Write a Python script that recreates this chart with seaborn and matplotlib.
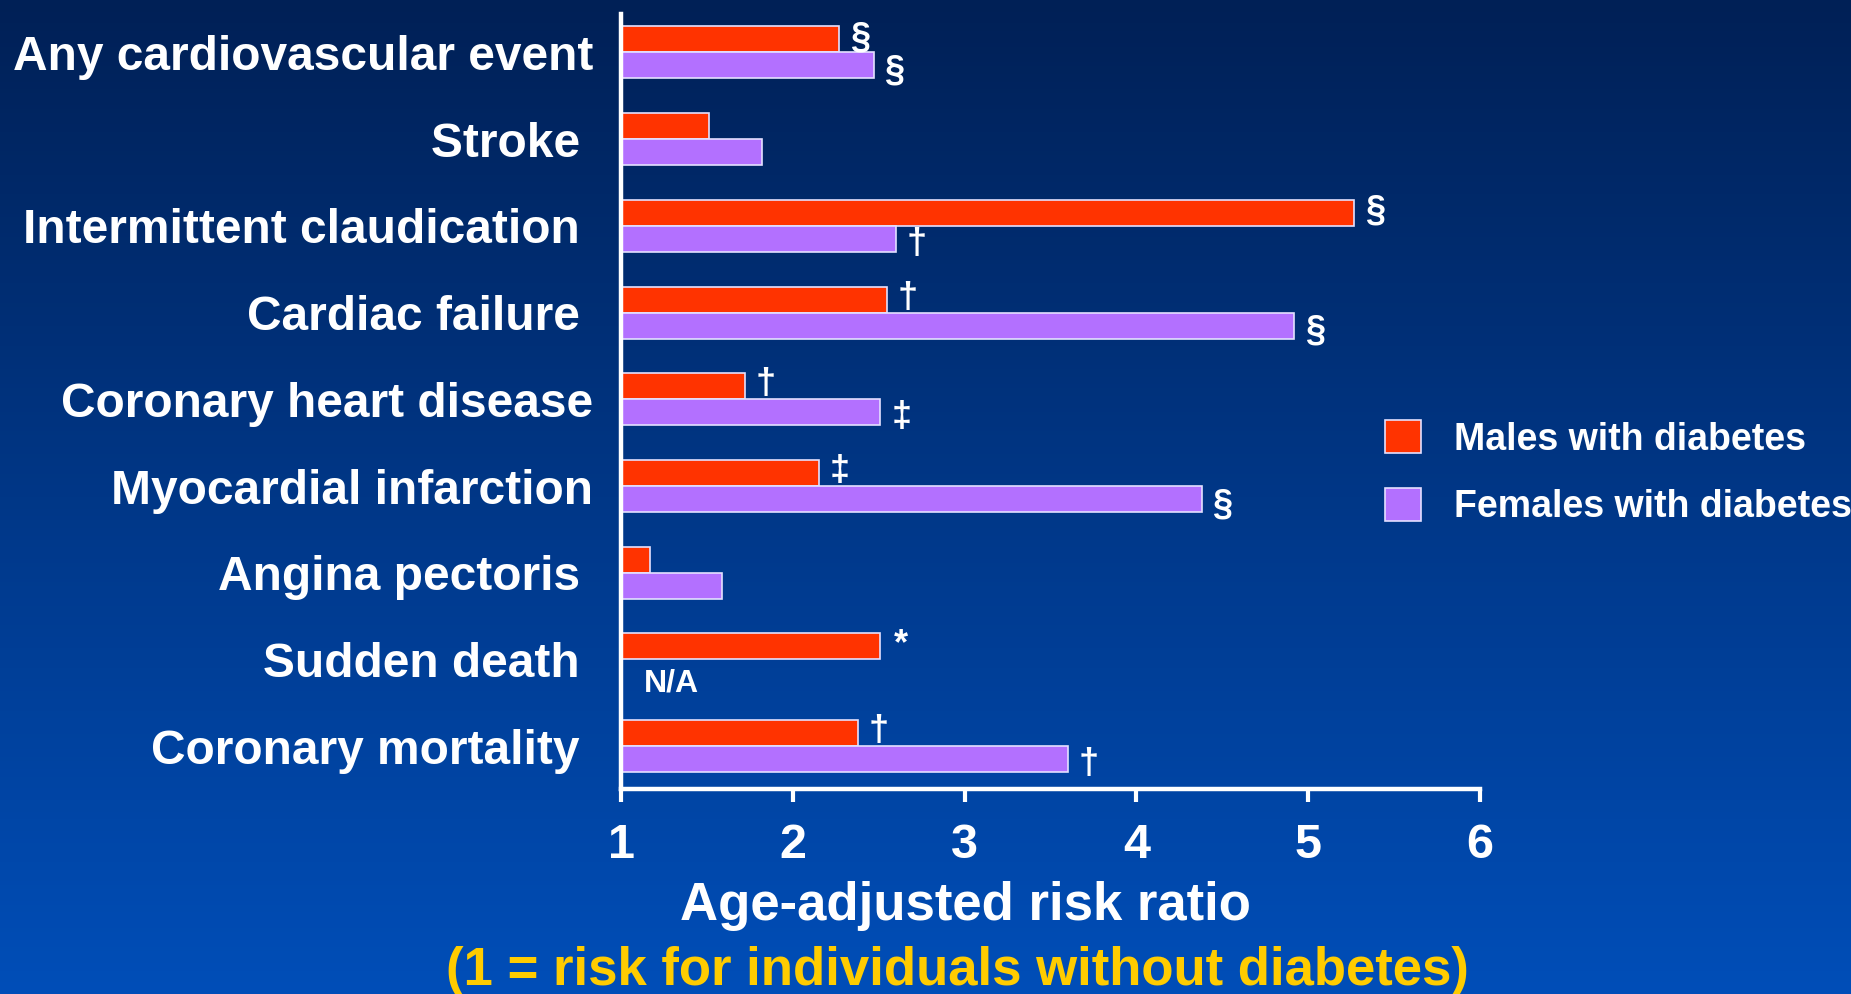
import numpy as np
import pandas as pd
import matplotlib
matplotlib.use("Agg")
import matplotlib.pyplot as plt
from matplotlib.patches import Patch
import seaborn as sns

# Age-adjusted risk ratios for cardiovascular events in people with diabetes
categories = [
    "Any cardiovascular event",
    "Stroke ",
    "Intermittent claudication ",
    "Cardiac failure ",
    "Coronary heart disease",
    "Myocardial infarction",
    "Angina pectoris ",
    "Sudden death ",
    "Coronary mortality ",
]
males = [2.27, 1.51, 5.27, 2.55, 1.72, 2.15, 1.17, 2.51, 2.38]
females = [2.47, 1.82, 2.60, 4.92, 2.51, 4.38, 1.59, np.nan, 3.60]
male_marks = ["§", "", "§", "†", "†", "‡", "", "*", "†"]
female_marks = ["§", "", "†", "§", "‡", "§", "", "", "†"]
groups = ["Males with diabetes", "Females with diabetes"]
x_ticks = [1, 2, 3, 4, 5, 6]

MALE_COLOR = "#FF3300"
FEMALE_COLOR = "#B370FF"
EDGE = "#E4E0FF"
WHITE = "#FFFFFF"
YELLOW = "#FFCC00"

sns.set_style("ticks")
plt.rcParams["font.family"] = ["Liberation Sans", "DejaVu Sans"]
plt.rcParams["font.weight"] = "bold"

rows = []
for cat, m, f in zip(categories, males, females):
    rows.append({"category": cat, "group": groups[0], "value": m})
    if not np.isnan(f):
        rows.append({"category": cat, "group": groups[1], "value": f})
df = pd.DataFrame(rows)

fig = plt.figure(figsize=(18.51, 9.94), dpi=100)

# vertical navy-to-blue backdrop
bg = fig.add_axes([0, 0, 1, 1], zorder=-10)
top = np.array([0, 32, 86]) / 255
bottom = np.array([0, 78, 184]) / 255
t = np.linspace(0, 1, 256)[:, None]
grad = (top[None, :] * (1 - t) + bottom[None, :] * t)[:, None, :]
bg.imshow(grad, aspect="auto", extent=[0, 1, 0, 1], origin="upper")
bg.set_axis_off()

ax = fig.add_axes([0.3355, 0.2066, 0.464, 0.779])
ax.patch.set_alpha(0)

sns.barplot(
    data=df, y="category", x="value", hue="group", order=categories,
    hue_order=groups, palette=[MALE_COLOR, FEMALE_COLOR], orient="h",
    width=0.6, errorbar=None, edgecolor=EDGE, linewidth=1.2,
    saturation=1, legend=False, ax=ax,
)

ax.set_xlim(1, 6)
ax.set_ylim(8.49, -0.44)
ax.set_xticks(x_ticks)
ax.set_xticklabels([str(v) for v in x_ticks])

for side in ["top", "right"]:
    ax.spines[side].set_visible(False)
for side in ["left", "bottom"]:
    ax.spines[side].set_color(WHITE)
    ax.spines[side].set_linewidth(3.2)

ax.tick_params(axis="x", colors=WHITE, length=9, width=3, pad=16, labelsize=35)
ax.tick_params(axis="y", colors=WHITE, length=0, pad=20, labelsize=34.5)
for lab in ax.get_xticklabels() + ax.get_yticklabels():
    lab.set_fontweight("bold")
    lab.set_color(WHITE)

ax.set_ylabel("")
ax.set_xlabel("Age-adjusted risk ratio", fontsize=38, fontweight="bold",
              color=WHITE, va="center")
ax.xaxis.set_label_coords(0.4016, -0.152)
ax.text(0.392, -0.2355, "(1 = risk for individuals without diabetes)",
        transform=ax.transAxes, ha="center", va="center", fontsize=38,
        fontweight="bold", color=YELLOW)

# significance markers next to each bar end
half = 0.15
for i in range(len(categories)):
    if male_marks[i]:
        ax.annotate(male_marks[i], (males[i], i - half), xytext=(15, 1),
                    textcoords="offset points", ha="center", va="center",
                    fontsize=26, fontweight="bold", color=WHITE)
    if female_marks[i] and not np.isnan(females[i]):
        ax.annotate(female_marks[i], (females[i], i + half), xytext=(15, -4),
                    textcoords="offset points", ha="center", va="center",
                    fontsize=26, fontweight="bold", color=WHITE)
    if np.isnan(females[i]):
        ax.annotate("N/A", (1, i + half), xytext=(36, -8),
                    textcoords="offset points", ha="center", va="center",
                    fontsize=23, fontweight="bold", color=WHITE)

handles = [Patch(facecolor=MALE_COLOR, edgecolor=EDGE, linewidth=1.2),
           Patch(facecolor=FEMALE_COLOR, edgecolor=EDGE, linewidth=1.2)]
leg = ax.legend(handles, groups, loc="upper left",
                bbox_to_anchor=(0.748, 0.577), bbox_transform=fig.transFigure,
                frameon=False, fontsize=27, handlelength=0.97,
                handleheight=0.97, handletextpad=0.88, labelspacing=0.8,
                borderpad=0, borderaxespad=0)
for txt in leg.get_texts():
    txt.set_color(WHITE)
    txt.set_fontweight("bold")

fig.savefig("out.png", dpi=100)
